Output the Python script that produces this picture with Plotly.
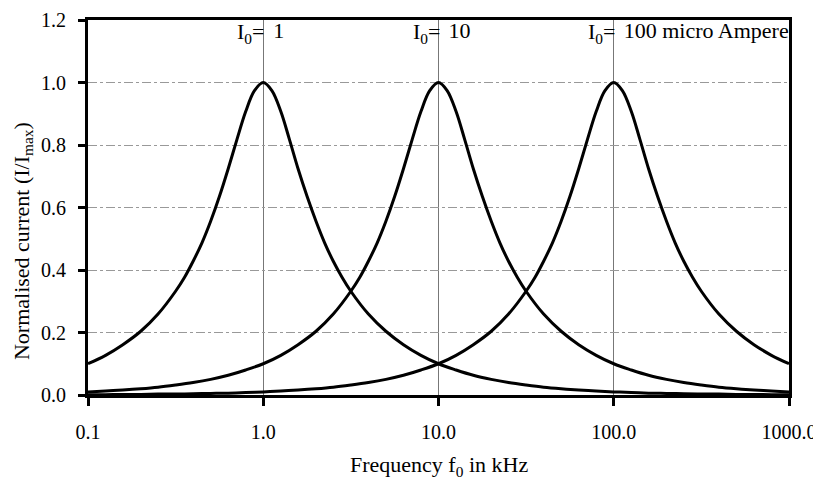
import math
import plotly.graph_objects as go

# Peak-shape samples; finer spacing around each resonance
freq_i0_1 = [0.1, 0.126, 0.158, 0.2, 0.251,
             0.316, 0.355, 0.398, 0.447, 0.501, 0.562, 0.631, 0.708, 0.794, 0.891, 1.0,
             1.12, 1.26, 1.41, 1.58, 1.78, 2.0, 2.24, 2.51, 2.82, 3.16,
             3.98, 5.01, 6.31, 7.94, 10.0, 12.6, 15.8, 20.0, 25.1, 31.6, 39.8, 50.1, 63.1, 79.4,
             100.0, 126.0, 158.0, 200.0, 251.0, 316.0, 398.0, 501.0, 631.0, 794.0, 1000.0]
current_i0_1 = [0.100, 0.127, 0.161, 0.204, 0.259,
                0.332, 0.376, 0.428, 0.487, 0.556, 0.635, 0.724, 0.818, 0.907, 0.974, 1.000,
                0.974, 0.907, 0.818, 0.724, 0.635, 0.556, 0.487, 0.428, 0.376, 0.332,
                0.259, 0.204, 0.161, 0.127, 0.100, 0.080, 0.063, 0.050, 0.040, 0.032, 0.025, 0.020, 0.016, 0.013,
                0.010, 0.008, 0.006, 0.005, 0.004, 0.003, 0.003, 0.002, 0.002, 0.001, 0.001]

freq_i0_10 = [0.1, 0.126, 0.158, 0.2, 0.251, 0.316, 0.398, 0.501, 0.631, 0.794,
              1.0, 1.26, 1.58, 2.0, 2.51,
              3.16, 3.55, 3.98, 4.47, 5.01, 5.62, 6.31, 7.08, 7.94, 8.91, 10.0,
              11.2, 12.6, 14.1, 15.8, 17.8, 20.0, 22.4, 25.1, 28.2, 31.6,
              39.8, 50.1, 63.1, 79.4, 100.0, 126.0, 158.0, 200.0, 251.0, 316.0,
              398.0, 501.0, 631.0, 794.0, 1000.0]
current_i0_10 = [0.010, 0.013, 0.016, 0.020, 0.025, 0.032, 0.040, 0.050, 0.063, 0.080,
                 0.100, 0.127, 0.161, 0.204, 0.259,
                 0.332, 0.376, 0.428, 0.487, 0.556, 0.635, 0.724, 0.818, 0.907, 0.974, 1.000,
                 0.974, 0.907, 0.818, 0.724, 0.635, 0.556, 0.487, 0.428, 0.376, 0.332,
                 0.259, 0.204, 0.161, 0.127, 0.100, 0.080, 0.063, 0.050, 0.040, 0.032,
                 0.025, 0.020, 0.016, 0.013, 0.010]

freq_i0_100 = [0.1, 0.126, 0.158, 0.2, 0.251, 0.316, 0.398, 0.501, 0.631, 0.794,
               1.0, 1.26, 1.58, 2.0, 2.51, 3.16, 3.98, 5.01, 6.31, 7.94,
               10.0, 12.6, 15.8, 20.0, 25.1,
               31.6, 35.5, 39.8, 44.7, 50.1, 56.2, 63.1, 70.8, 79.4, 89.1, 100.0,
               112.0, 126.0, 141.0, 158.0, 178.0, 200.0, 224.0, 251.0, 282.0, 316.0,
               398.0, 501.0, 631.0, 794.0, 1000.0]
current_i0_100 = [0.001, 0.001, 0.002, 0.002, 0.003, 0.003, 0.004, 0.005, 0.006, 0.008,
                  0.010, 0.013, 0.016, 0.020, 0.025, 0.032, 0.040, 0.050, 0.063, 0.080,
                  0.100, 0.127, 0.161, 0.204, 0.259,
                  0.332, 0.376, 0.428, 0.487, 0.556, 0.635, 0.724, 0.818, 0.907, 0.974, 1.000,
                  0.974, 0.907, 0.818, 0.724, 0.635, 0.556, 0.487, 0.428, 0.376, 0.332,
                  0.259, 0.204, 0.161, 0.127, 0.100]

peak_freqs = [1.0, 10.0, 100.0]
peak_labels = ["1", "10", "100 micro Ampere"]
label_level = 1.16

x_tickvals = [0.1, 1.0, 10.0, 100.0, 1000.0]
x_ticktext = ["0.1", "1.0", "10.0", "100.0", "1000.0"]
y_tickvals = [0.0, 0.2, 0.4, 0.6, 0.8, 1.0, 1.2]
y_ticktext = ["0.0", "0.2", "0.4", "0.6", "0.8", "1.0", "1.2"]

FONT = "Liberation Serif, Times New Roman, serif"

fig = go.Figure()
for xs, ys in ((freq_i0_1, current_i0_1), (freq_i0_10, current_i0_10), (freq_i0_100, current_i0_100)):
    fig.add_trace(go.Scatter(
        x=xs, y=ys, mode="lines",
        line=dict(color="black", width=3, shape="spline", smoothing=1.0),
        showlegend=False, hoverinfo="skip"))

# Value labels as a text trace so they are clipped at the plot frame (like the reference)
px_per_decade = 701 / 4.0
gap = 10 ** (10 / px_per_decade)
fig.add_trace(go.Scatter(
    x=[f * gap for f in peak_freqs], y=[label_level] * len(peak_freqs),
    mode="text", text=peak_labels, textposition="middle right",
    textfont=dict(family=FONT, size=22, color="black"),
    cliponaxis=True, showlegend=False, hoverinfo="skip"))

annotations = []
for f in peak_freqs:
    lx = math.log10(f)  # log axis: annotation x in log units
    annotations.append(dict(x=lx, y=label_level, xref="x", yref="y", text="I<sub>0</sub>=",
                            showarrow=False, xanchor="right", yanchor="middle",
                            xshift=3, font=dict(family=FONT, size=22, color="black")))

annotations.append(dict(x=0.5, y=-0.19, xref="paper", yref="paper",
                        text="Frequency f<sub>0</sub> in kHz", showarrow=False,
                        xanchor="center", yanchor="middle",
                        font=dict(family=FONT, size=22, color="black")))
annotations.append(dict(x=-0.093, y=0.41, xref="paper", yref="paper",
                        text="Normalised current (I/I<sub>max</sub>)", showarrow=False,
                        textangle=-90, xanchor="center", yanchor="middle",
                        font=dict(family=FONT, size=22, color="black")))

fig.update_layout(
    width=813, height=472,
    margin=dict(l=80, r=32, t=12, b=85, autoexpand=False),
    paper_bgcolor="white", plot_bgcolor="white",
    font=dict(family=FONT, size=20, color="black"),
    annotations=annotations,
    xaxis=dict(type="log", range=[-1, 3], tickvals=x_tickvals, ticktext=x_ticktext,
               automargin=False,
               showgrid=True, gridcolor="#777", gridwidth=1,
               ticks="outside", ticklen=8, tickwidth=3, tickcolor="black",
               ticklabelstandoff=9,
               showline=True, linecolor="black", linewidth=3, mirror=True,
               zeroline=False, tickfont=dict(family=FONT, size=20)),
    yaxis=dict(range=[0, 1.2], tickvals=y_tickvals, ticktext=y_ticktext,
               automargin=False,
               showgrid=True, gridcolor="#999", gridwidth=1, griddash="dashdot",
               ticks="outside", ticklen=7, tickwidth=3, tickcolor="black",
               ticklabelstandoff=8,
               showline=True, linecolor="black", linewidth=3, mirror=True,
               zeroline=False, tickfont=dict(family=FONT, size=20)),
)

fig.write_html("out.html")
